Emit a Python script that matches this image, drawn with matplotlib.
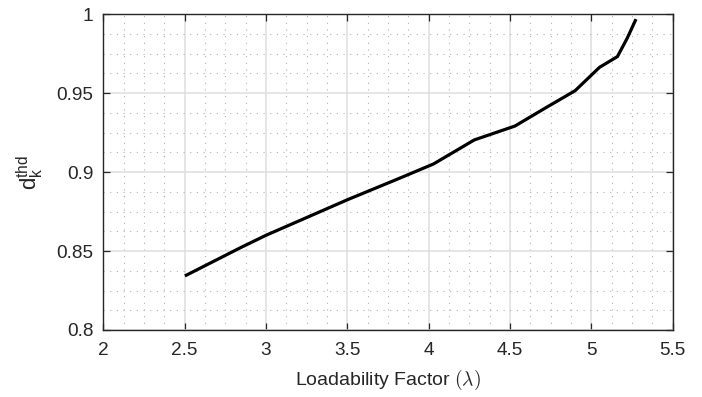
import numpy as np
import matplotlib
matplotlib.use("Agg")
import matplotlib.pyplot as plt
from matplotlib.ticker import MultipleLocator

# loadability factor vs threshold distance
lam = [2.51, 2.85, 3.0, 3.5, 3.82, 4.03, 4.28, 4.53, 4.72, 4.90, 5.05, 5.16, 5.22, 5.27]
d_thd = [0.8347, 0.8525, 0.8600, 0.8825, 0.8961, 0.9052, 0.9204, 0.9292, 0.9408,
         0.9516, 0.9664, 0.9732, 0.9848, 0.9960]

xticks = [2, 2.5, 3, 3.5, 4, 4.5, 5, 5.5]
yticks = [0.8, 0.85, 0.9, 0.95, 1.0]
xticklabels = ["2", "2.5", "3", "3.5", "4", "4.5", "5", "5.5"]
yticklabels = ["0.8", "0.85", "0.9", "0.95", "1"]

plt.rcParams['font.family'] = ['Liberation Sans', 'DejaVu Sans']
plt.rcParams['mathtext.fontset'] = 'custom'
plt.rcParams['mathtext.rm'] = 'Liberation Sans'
plt.rcParams['mathtext.it'] = 'Liberation Sans:italic'

fig = plt.figure(figsize=(7.02, 3.97), dpi=100)
ax = fig.add_axes([0.1472, 0.1688, 0.8111, 0.7952])

ax.plot(lam, d_thd, color="black", lw=2.3, solid_joinstyle="miter", zorder=3)

ax.set_xlim(2, 5.5)
ax.set_ylim(0.8, 1.0)
ax.set_xticks(xticks)
ax.set_xticklabels(xticklabels)
ax.set_yticks(yticks)
ax.set_yticklabels(yticklabels)
ax.xaxis.set_minor_locator(MultipleLocator(0.125))
ax.yaxis.set_minor_locator(MultipleLocator(0.0125))

ax.grid(which="major", color="#dedede", lw=1.1, ls="-")
ax.grid(which="minor", color="#b0b0b0", lw=0.8, ls=(0, (1, 5)))
ax.set_axisbelow(True)

ax.tick_params(which="major", direction="in", length=5, width=0.9, color="#262626",
               top=True, right=True, labelsize=13.7, labelcolor="#262626", pad=7)
ax.tick_params(axis="x", which="major", pad=9)
ax.tick_params(which="minor", length=0, top=True, right=True)
for s in ax.spines.values():
    s.set_color("#262626")
    s.set_linewidth(1.0)

ax.set_xlabel(r"Loadability Factor $(\lambda)$", fontsize=14, color="#262626",
              labelpad=6, math_fontfamily="cm")
ax.set_ylabel(r"$\mathregular{d_k^{thd}}$", fontsize=16, color="#262626", labelpad=8)

fig.savefig("out.png", dpi=100)
